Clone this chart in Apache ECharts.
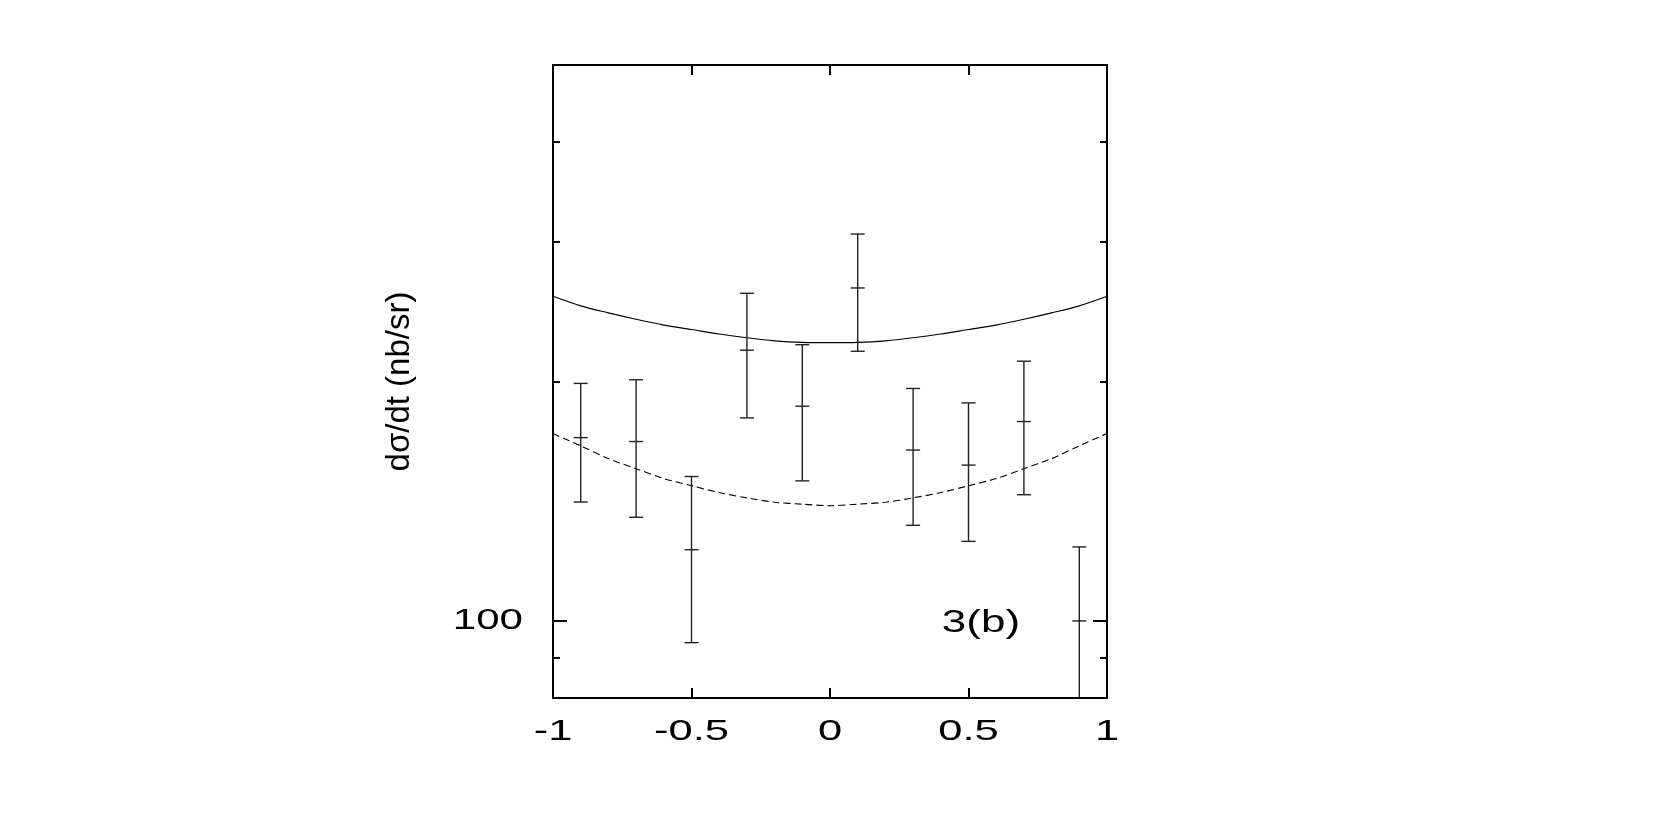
<!DOCTYPE html>
<html><head><meta charset="utf-8">
<script src="https://cdn.jsdelivr.net/npm/echarts@6/dist/echarts.min.js"></script>
<style>html,body{margin:0;padding:0;background:#fff}#main{width:1661px;height:830px}</style>
</head><body><div id="main"></div>
<script>
// ---- data ----
const cosTheta   = [-0.9, -0.7, -0.5, -0.3, -0.1, 0.1, 0.3, 0.5, 0.7, 0.9];
const measured   = [170.0, 168.1, 122.9, 219.0, 186.2, 262.2, 164.0, 157.0, 178.1, 100.0];
const errLow     = [141.1, 135.0, 93.9, 180.0, 150.0, 218.3, 131.9, 125.9, 144.1, 70.0];
const errHigh    = [198.9, 201.0, 151.9, 258.2, 222.5, 306.5, 196.0, 188.0, 212.1, 123.9];
const curveX     = [-1, -0.9, -0.8, -0.7, -0.6, -0.5, -0.4, -0.3, -0.2, -0.1, 0, 0.1, 0.2, 0.3, 0.4, 0.5, 0.6, 0.7, 0.8, 0.9, 1];
const solidCurve = [256, 249, 244, 239.5, 235.5, 232.5, 229.5, 227, 225, 224, 223.8, 224, 225, 227, 229.5, 232.5, 235.5, 239.5, 244, 249, 256];
const dashedCurve= [172, 166, 160, 155.4, 151, 147.9, 145, 142.8, 141, 140.2, 139.6, 140.2, 141, 142.8, 145, 147.9, 151, 155.4, 160, 166, 172];
const xTickValues = [-1, -0.5, 0, 0.5, 1];
const xTickLabels = ['-1', '-0.5', '0', '0.5', '1'];
const yMajorTicks = [100];
const yMajorLabels = ['100'];
const yMinorTicks = [90, 200, 300, 400];
const yAxisTitle = 'dσ/dt (nb/sr)';
const panelLabel = '3(b)';
const panelLabelAt = [0.545, 99.3];

// ---- chart ----
const FONT = '"Liberation Sans", Arial, Helvetica, sans-serif';
const chart = echarts.init(document.getElementById('main'));
const frame = { show: true, onZero: false, lineStyle: { color: '#000', width: 2 } };
const noLine = { show: false, onZero: false };
function xAx(pos) {
  return {
    type: 'value', position: pos, min: -1, max: 1, interval: 0.5,
    axisLine: frame,
    axisTick: { show: true, inside: true, length: 10, lineStyle: { color: '#000', width: 2 } },
    axisLabel: { show: false }, splitLine: { show: false }
  };
}
function yAx(pos, ticks, len, withLine, extra) {
  return Object.assign({
    type: 'log', logBase: 10, position: pos, offset: 0, min: 80, max: 500,
    axisLine: withLine ? frame : noLine,
    axisTick: { show: true, inside: true, length: len, customValues: ticks, lineStyle: { color: '#000', width: 2 } },
    axisLabel: { show: false }, splitLine: { show: false }, minorTick: { show: false }
  }, extra || {});
}
const linePts = (ys) => curveX.map((x, i) => [x, ys[i]]);
const errData = cosTheta.map((x, i) => [x, measured[i], errLow[i], errHigh[i]]);

const option = {
  animation: false,
  backgroundColor: '#fff',
  grid: { left: 553, top: 65, width: 554, height: 633, containLabel: false },
  xAxis: [xAx('bottom'), xAx('top')],
  yAxis: [
    yAx('left', yMajorTicks, 14, true, {
      name: yAxisTitle, nameLocation: 'middle', nameRotate: 90, nameGap: 137,
      nameTextStyle: { fontSize: 33, fontFamily: FONT, color: '#000' }
    }),
    yAx('left', yMinorTicks, 7, false),
    yAx('right', yMajorTicks, 14, true),
    yAx('right', yMinorTicks, 7, false)
  ],
  series: [
    {
      type: 'line', data: linePts(solidCurve), xAxisIndex: 0, yAxisIndex: 0,
      showSymbol: false, smooth: 0.3, lineStyle: { color: '#000', width: 1.2, type: 'solid' }, z: 3
    },
    {
      type: 'line', data: linePts(dashedCurve), xAxisIndex: 0, yAxisIndex: 0,
      showSymbol: false, smooth: 0.3, lineStyle: { color: '#000', width: 1.1, type: [7, 4] }, z: 3
    },
    {
      type: 'custom', xAxisIndex: 0, yAxisIndex: 0, clip: true, z: 4,
      data: errData,
      encode: { x: 0, y: [1, 2, 3] },
      renderItem: function (params, api) {
        const x = api.value(0);
        const c = api.coord([x, api.value(1)]);
        const lo = api.coord([x, api.value(2)]);
        const hi = api.coord([x, api.value(3)]);
        const h = 7;
        const st = { stroke: '#222', lineWidth: 1.4 };
        return {
          type: 'group',
          children: [
            { type: 'line', shape: { x1: c[0], y1: lo[1], x2: c[0], y2: hi[1] }, style: st },
            { type: 'line', shape: { x1: c[0] - h, y1: hi[1], x2: c[0] + h, y2: hi[1] }, style: st },
            { type: 'line', shape: { x1: c[0] - h, y1: lo[1], x2: c[0] + h, y2: lo[1] }, style: st },
            { type: 'line', shape: { x1: c[0] - h, y1: c[1], x2: c[0] + h, y2: c[1] }, style: st }
          ]
        };
      }
    }
  ]
};
chart.setOption(option);

// tick labels and panel label as text (stretched horizontally like the reference)
const graphics = [];
xTickValues.forEach((v, i) => {
  const p = chart.convertToPixel({ gridIndex: 0 }, [v, 80]);
  graphics.push({
    type: 'text', x: p[0], y: p[1] + 34, scaleX: 1.45, z: 10,
    style: { text: xTickLabels[i], fill: '#000', font: '30px ' + FONT, textAlign: 'center', textVerticalAlign: 'middle' }
  });
});
yMajorTicks.forEach((v, i) => {
  const p = chart.convertToPixel({ gridIndex: 0 }, [-1, v]);
  graphics.push({
    type: 'text', x: p[0] - 30, y: p[1], scaleX: 1.45, z: 10,
    style: { text: yMajorLabels[i], fill: '#000', font: '29px ' + FONT, textAlign: 'right', textVerticalAlign: 'middle' }
  });
});
{
  const p = chart.convertToPixel({ gridIndex: 0 }, panelLabelAt);
  graphics.push({
    type: 'text', x: p[0], y: p[1], scaleX: 1.42, z: 10,
    style: { text: panelLabel, fill: '#000', font: '31px ' + FONT, textAlign: 'center', textVerticalAlign: 'middle' }
  });
}
chart.setOption({ graphic: graphics });
</script></body></html>
